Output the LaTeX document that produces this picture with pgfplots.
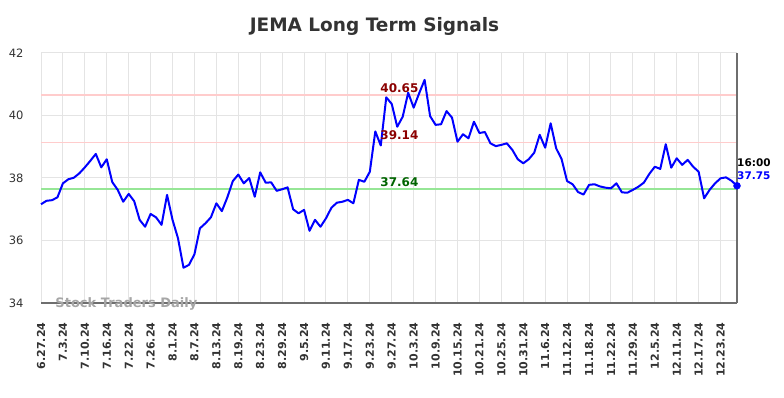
\documentclass[border=0pt]{standalone}
\usepackage{fontspec}
\setmainfont{DejaVu Sans}
\usepackage{pgfplots}
\usepackage{pgfplotstable}
\pgfplotsset{compat=1.18}
\definecolor{lred}{RGB}{255,204,204}
\definecolor{lgreen}{RGB}{150,230,150}
\definecolor{dred}{RGB}{139,0,0}
\definecolor{dgreen}{RGB}{0,100,0}
\definecolor{gridc}{RGB}{228,228,228}
\definecolor{spine}{RGB}{110,110,110}
\definecolor{txt}{RGB}{51,51,51}
\pgfplotstableread{
x y
0 37.16
1 37.27
2 37.29
3 37.38
4 37.83
5 37.96
6 38.01
7 38.15
8 38.34
9 38.55
10 38.77
11 38.34
12 38.60
13 37.87
14 37.62
15 37.24
16 37.49
17 37.26
18 36.66
19 36.44
20 36.85
21 36.74
22 36.50
23 37.46
24 36.66
25 36.07
26 35.13
27 35.22
28 35.56
29 36.39
30 36.55
31 36.74
32 37.19
33 36.94
34 37.38
35 37.90
36 38.11
37 37.83
38 38.00
39 37.40
40 38.18
41 37.85
42 37.86
43 37.59
44 37.64
45 37.70
46 37.00
47 36.87
48 36.98
49 36.31
50 36.66
51 36.44
52 36.71
53 37.05
54 37.21
55 37.24
56 37.30
57 37.19
58 37.94
59 37.88
60 38.20
61 39.49
62 39.04
63 40.58
64 40.37
65 39.64
66 39.96
67 40.73
68 40.25
69 40.71
70 41.14
71 39.98
72 39.70
73 39.72
74 40.14
75 39.93
76 39.16
77 39.40
78 39.27
79 39.80
80 39.44
81 39.47
82 39.11
83 39.02
84 39.06
85 39.11
86 38.90
87 38.60
88 38.47
89 38.60
90 38.81
91 39.38
92 38.97
93 39.75
94 38.95
95 38.60
96 37.90
97 37.80
98 37.55
99 37.47
100 37.78
101 37.80
102 37.73
103 37.69
104 37.67
105 37.83
106 37.54
107 37.53
108 37.62
109 37.72
110 37.85
111 38.13
112 38.36
113 38.29
114 39.08
115 38.33
116 38.63
117 38.42
118 38.58
119 38.36
120 38.20
121 37.35
122 37.62
123 37.83
124 37.99
125 38.02
126 37.91
127 37.75
}\datatable
\begin{document}
\begin{tikzpicture}[x=1pt,y=1pt]
\path[use as bounding box] (0,0) rectangle (784,398);
\node[font=\bfseries\fontsize{18.5}{21}\selectfont, text=txt] at (374.5,372) {JEMA Long Term Signals};
\begin{axis}[
  at={(41pt,95pt)}, anchor=south west,
  scale only axis, width=696pt, height=250pt,
  xmin=0, xmax=127, ymin=34, ymax=42,
  ytick={34,36,38,40,42},
  xtick={0,4,...,124},
  xticklabels={6.27.24,7.3.24,7.10.24,7.16.24,7.22.24,7.26.24,8.1.24,8.7.24,8.13.24,8.19.24,8.23.24,8.29.24,9.5.24,9.11.24,9.17.24,9.23.24,9.27.24,10.3.24,10.9.24,10.15.24,10.21.24,10.25.24,10.31.24,11.6.24,11.12.24,11.18.24,11.22.24,11.29.24,12.5.24,12.11.24,12.17.24,12.23.24},
  /pgf/number format/assume math mode=true,
  grid=major, grid style={color=gridc, line width=1pt},
  major tick length=0pt,
  axis line style={draw=none},
  xticklabel style={rotate=90, anchor=east, font=\bfseries\fontsize{11}{12}\selectfont, text=txt},
  yticklabel style={font=\fontsize{11.5}{13}\selectfont, text=txt},
  xticklabel shift=16pt,
  yticklabel shift=14pt,
  clip=false,
]
\addplot[line width=1.5pt, color=lred] coordinates {(0,40.65) (127,40.65)};
\addplot[line width=1.5pt, color=lred] coordinates {(0,39.14) (127,39.14)};
\addplot[line width=1.5pt, color=lgreen] coordinates {(0,37.64) (127,37.64)};
\draw[spine, line width=1.2pt] (rel axis cs:0,0) -- (rel axis cs:1,0);
\draw[spine, line width=1.8pt] (rel axis cs:1,0) -- (rel axis cs:1,1);
\node[anchor=west, font=\bfseries\fontsize{13}{15}\selectfont, text=gray!70] at (axis cs:2.0,34) [yshift=-0.5pt] {Stock Traders Daily};
\addplot[line width=2pt, color=blue, line join=round] table[x=x,y=y] {\datatable};
\addplot[only marks, mark=*, mark size=3.5pt, color=blue] coordinates {(127,37.75)};
\node[font=\bfseries\fontsize{12}{14}\selectfont, text=dred] at (axis cs:65.4,40.65) [yshift=7.5pt] {40.65};
\node[font=\bfseries\fontsize{12}{14}\selectfont, text=dred] at (axis cs:65.4,39.14) [yshift=7.5pt] {39.14};
\node[font=\bfseries\fontsize{12}{14}\selectfont, text=dgreen] at (axis cs:65.4,37.64) [yshift=7.5pt] {37.64};
\node[anchor=west, inner sep=0pt, font=\bfseries\fontsize{10.5}{12}\selectfont, text=black] at (axis cs:127,37.75) [yshift=23.5pt] {16:00};
\node[anchor=west, inner sep=0pt, font=\bfseries\fontsize{10.5}{12}\selectfont, text=blue] at (axis cs:127,37.75) [yshift=10pt] {37.75};
\end{axis}
\end{tikzpicture}
\end{document}
